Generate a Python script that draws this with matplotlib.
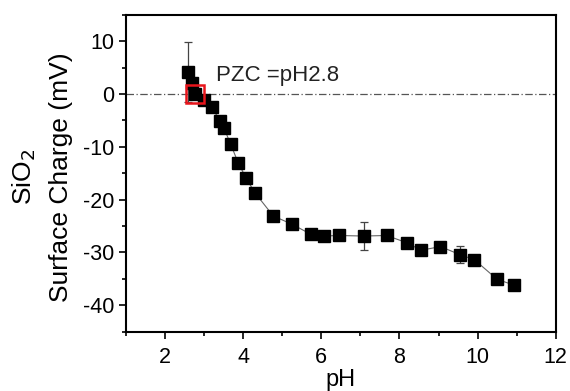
import matplotlib
matplotlib.use("Agg")
import matplotlib.pyplot as plt
from matplotlib.ticker import MultipleLocator

plt.rcParams['font.family'] = ['Liberation Sans', 'DejaVu Sans']
plt.rcParams['axes.unicode_minus'] = False

ph = [2.60, 2.70, 2.77, 3.00, 3.20, 3.40, 3.51, 3.68, 3.87, 4.08, 4.30,
      4.77, 5.26, 5.74, 6.06, 6.44, 7.08, 7.67, 8.20, 8.55, 9.05, 9.54,
      9.92, 10.50, 10.93]
charge = [4.2, 2.0, 0.1, -1.1, -2.4, -5.1, -6.5, -9.5, -13.0, -16.0, -18.7,
          -23.1, -24.7, -26.6, -26.9, -26.8, -26.9, -26.8, -28.2, -29.6,
          -28.9, -30.4, -31.4, -35.1, -36.2]
err = [5.7, 0, 0, 0, 0, 0, 0, 0, 0, 0, 0,
       0, 0, 0, 0, 0, 2.6, 0, 0, 0, 0, 1.7, 0, 0, 0]
pzc = 2.77

fig = plt.figure(figsize=(5.7, 3.91), dpi=100)
ax = fig.add_axes([0.221, 0.152, 0.754, 0.810])

ax.axhline(0, color="#555555", lw=0.9, ls=(0, (6, 2, 1, 2)))
ax.plot(ph, charge, color="#666666", lw=0.8, zorder=2)
ax.errorbar(ph, charge, yerr=err, fmt="none", ecolor="#444444",
            elinewidth=0.9, capsize=3, capthick=0.9, zorder=2)
ax.plot(ph, charge, "s", color="black", ms=8.5, ls="none", zorder=3)
ax.plot([pzc], [0], "s", mfc="none", mec="#e8141b", mew=1.8, ms=12.5, zorder=4)
ax.text(3.3, 3.6, "PZC =pH2.8", fontsize=16, va="center", ha="left", color="#222222")

ax.set_xlim(1, 12)
ax.set_ylim(-45, 15)
ax.xaxis.set_major_locator(MultipleLocator(2))
ax.xaxis.set_minor_locator(MultipleLocator(1))
ax.yaxis.set_major_locator(MultipleLocator(10))
ax.yaxis.set_minor_locator(MultipleLocator(5))
ax.set_yticks(range(-40, 11, 10))
ax.tick_params(which="both", direction="out", labelsize=15.5, width=1.2)
ax.tick_params(which="major", length=5)
ax.tick_params(which="minor", length=3)
ax.tick_params(axis="x", pad=6)
for s in ax.spines.values():
    s.set_linewidth(1.5)

ax.set_xlabel("pH", fontsize=17, labelpad=1)
fig.text(42 / 570, 0.547, "SiO$_2$\nSurface Charge (mV)", fontsize=19,
         rotation=90, ha="center", va="center", linespacing=1.6,
         multialignment="center")

fig.savefig("out.png", dpi=100)
